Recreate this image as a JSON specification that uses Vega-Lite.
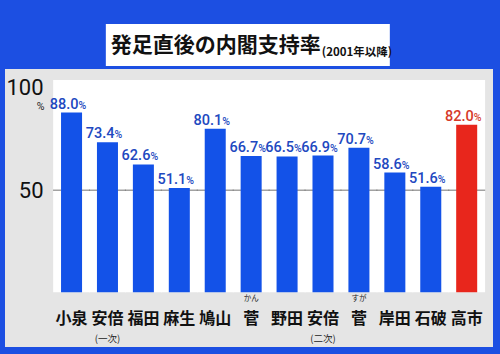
{
  "$schema": "https://vega.github.io/schema/vega-lite/v6.json",
  "background": "#1c4fe2",
  "padding": {"left": 5, "right": 7, "top": 24, "bottom": 7},
  "spacing": 3,
  "center": true,
  "config": {"font": "Noto Sans CJK JP"},
  "vconcat": [
    {
      "width": 284,
      "height": 42,
      "view": {"fill": "white", "stroke": null},
      "data": {"values": [{"title": "発足直後の内閣支持率", "note": "(2001年以降)"}]},
      "layer": [
        {
          "mark": {"type": "text", "font": "Noto Sans CJK JP", "fontSize": 21, "fontWeight": "bold", "align": "center", "baseline": "middle", "dx": -32, "dy": 1, "color": "#111111"},
          "encoding": {"text": {"field": "title"}}
        },
        {
          "mark": {"type": "text", "font": "Noto Sans CJK JP", "fontSize": 11.5, "fontWeight": "bold", "align": "left", "baseline": "middle", "dx": 74, "dy": 8, "color": "#111111"},
          "encoding": {"text": {"field": "note"}}
        }
      ]
    },
    {
      "width": 488,
      "height": 278,
      "view": {"fill": "#e5e5e5", "stroke": null},
      "data": {
        "values": [
          {"cabinet": "小泉", "name": "小泉", "sub": "", "ruby": "", "rate": 88.0},
          {"cabinet": "安倍(一次)", "name": "安倍", "sub": "(一次)", "ruby": "", "rate": 73.4},
          {"cabinet": "福田", "name": "福田", "sub": "", "ruby": "", "rate": 62.6},
          {"cabinet": "麻生", "name": "麻生", "sub": "", "ruby": "", "rate": 51.1},
          {"cabinet": "鳩山", "name": "鳩山", "sub": "", "ruby": "", "rate": 80.1},
          {"cabinet": "菅(かん)", "name": "菅", "sub": "", "ruby": "かん", "rate": 66.7},
          {"cabinet": "野田", "name": "野田", "sub": "", "ruby": "", "rate": 66.5},
          {"cabinet": "安倍(二次)", "name": "安倍", "sub": "(二次)", "ruby": "", "rate": 66.9},
          {"cabinet": "菅(すが)", "name": "菅", "sub": "", "ruby": "すが", "rate": 70.7},
          {"cabinet": "岸田", "name": "岸田", "sub": "", "ruby": "", "rate": 58.6},
          {"cabinet": "石破", "name": "石破", "sub": "", "ruby": "", "rate": 51.6},
          {"cabinet": "高市", "name": "高市", "sub": "", "ruby": "", "rate": 82.0}
        ]
      },
      "encoding": {
        "x": {
          "field": "cabinet",
          "type": "nominal",
          "sort": null,
          "axis": null,
          "scale": {"paddingInner": 0.415, "paddingOuter": 1.004, "align": 0.78}
        },
        "y": {
          "type": "quantitative",
          "scale": {"domain": [-26.8, 109.3], "nice": false, "zero": false},
          "axis": {
            "orient": "left",
            "offset": -39,
            "values": [50, 100],
            "domain": false,
            "ticks": false,
            "grid": false,
            "zindex": 2,
            "labelFont": "Roboto",
            "labelFontSize": 22,
            "labelColor": "#111111",
            "labelPadding": 1,
            "title": "%",
            "titleAngle": 0,
            "titleX": -4,
            "titleY": 37,
            "titleAlign": "center",
            "titleBaseline": "middle",
            "titleFont": "Roboto",
            "titleFontSize": 10.5,
            "titleFontWeight": "normal",
            "titleColor": "#222222"
          }
        }
      },
      "layer": [
        {
          "mark": {"type": "bar", "color": "white", "width": {"band": 1.75}},
          "encoding": {
            "y": {"datum": 0},
            "y2": {"datum": 103.9}
          }
        },
        {
          "mark": {"type": "tick", "color": "#7a7a7a", "thickness": 1.5, "size": 37, "orient": "horizontal"},
          "encoding": {
            "y": {"datum": 50}
          }
        },
        {
          "mark": {"type": "bar", "width": {"band": 1}},
          "encoding": {
            "y": {"field": "rate"},
            "y2": {"datum": 0},
            "color": {"condition": {"test": "datum.cabinet === '高市'", "value": "#e8261c"}, "value": "#1352e8"}
          }
        },
        {
          "mark": {"type": "text", "align": "right", "baseline": "alphabetic", "dx": 7, "dy": -4, "font": "Roboto", "fontSize": 14.5, "fontWeight": 500},
          "encoding": {
            "y": {"field": "rate"},
            "text": {"field": "rate", "type": "quantitative", "format": ".1f"},
            "color": {"condition": {"test": "datum.cabinet === '高市'", "value": "#d63a2a"}, "value": "#2148c0"}
          }
        },
        {
          "mark": {"type": "text", "align": "left", "baseline": "alphabetic", "dx": 7, "dy": -4, "font": "Roboto", "fontSize": 10.5, "fontWeight": 500},
          "encoding": {
            "y": {"field": "rate"},
            "text": {"value": "%"},
            "color": {"condition": {"test": "datum.cabinet === '高市'", "value": "#d63a2a"}, "value": "#2148c0"}
          }
        },
        {
          "mark": {"type": "text", "align": "center", "baseline": "middle", "font": "Noto Sans CJK JP", "fontSize": 16, "fontWeight": "bold", "color": "#111111"},
          "encoding": {
            "y": {"datum": -13.1},
            "text": {"field": "name"}
          }
        },
        {
          "mark": {"type": "text", "align": "center", "baseline": "middle", "font": "Noto Sans CJK JP", "fontSize": 9.5, "color": "#222222"},
          "encoding": {
            "y": {"datum": -22.7},
            "text": {"field": "sub"}
          }
        },
        {
          "mark": {"type": "text", "align": "center", "baseline": "middle", "font": "Noto Sans CJK JP", "fontSize": 7.5, "color": "#222222"},
          "encoding": {
            "y": {"datum": -3.4},
            "text": {"field": "ruby"}
          }
        }
      ]
    }
  ]
}
